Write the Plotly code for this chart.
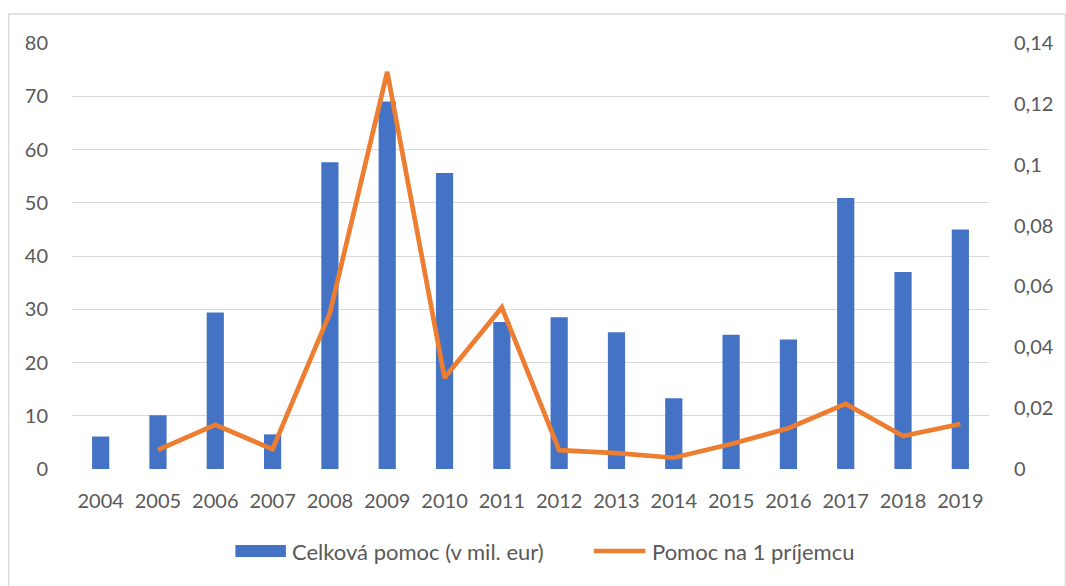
import plotly.graph_objects as go

years = [str(y) for y in range(2004, 2020)]
celkova_pomoc = [6.1, 10.1, 29.4, 6.5, 57.6, 69.0, 55.6, 27.6, 28.5, 25.7, 13.3, 25.2, 24.3, 50.9, 37.0, 45.0]
pomoc_na_prijemcu = [None, 0.0063, 0.0145, 0.0065, 0.0513, 0.1305, 0.0300, 0.0531,
                     0.0062, 0.0052, 0.0037, 0.0082, 0.0134, 0.0214, 0.0108, 0.0148]
left_ticks = [0, 10, 20, 30, 40, 50, 60, 70, 80]
right_ticks = [0, 0.02, 0.04, 0.06, 0.08, 0.1, 0.12, 0.14]
names = ["Celková pomoc (v mil. eur)", "Pomoc na 1 príjemcu"]

FONT = "Lato"
FS = 20
LFS = 22
TXT = "#595959"
GRID = "#D9D9D9"
BLUE = "#4472C4"
ORANGE = "#ED7D31"

fig = go.Figure()
fig.add_trace(go.Bar(
    x=years, y=celkova_pomoc, name=names[0],
    marker=dict(color=BLUE, line=dict(width=0)),
    yaxis="y",
))
fig.add_trace(go.Scatter(
    x=years, y=pomoc_na_prijemcu, name=names[1],
    mode="lines", line=dict(color=ORANGE, width=4.7),
    yaxis="y2", connectgaps=False,
))

W, H = 1066, 586
L, R, T, B = 72, 68, 43, 117
pw, ph = W - L - R, H - T - B

def px_x(p):
    return (p - L) / pw

def px_y(p):
    return (H - B - p) / ph

LEG_Y = 551
shapes = [
    dict(type="rect", xref="paper", yref="paper",
         x0=px_x(8), x1=px_x(1075), y0=px_y(600), y1=px_y(14),
         line=dict(color=GRID, width=1.3), layer="below"),
    dict(type="rect", xref="paper", yref="paper",
         x0=px_x(237), x1=px_x(288), y0=px_y(LEG_Y + 6), y1=px_y(LEG_Y - 6),
         fillcolor=BLUE, line=dict(width=0)),
    dict(type="line", xref="paper", yref="paper",
         x0=px_x(599), x1=px_x(651), y0=px_y(LEG_Y), y1=px_y(LEG_Y),
         line=dict(color=ORANGE, width=4.7)),
]
annotations = [
    dict(text=names[0], xref="paper", yref="paper", x=px_x(292), y=px_y(LEG_Y),
         xanchor="left", yanchor="middle", showarrow=False,
         font=dict(family=FONT, size=LFS, color=TXT)),
    dict(text=names[1], xref="paper", yref="paper", x=px_x(656), y=px_y(LEG_Y),
         xanchor="left", yanchor="middle", showarrow=False,
         font=dict(family=FONT, size=LFS, color=TXT)),
]

fig.update_layout(
    width=W, height=H,
    margin=dict(l=L, r=R, t=T, b=B, pad=0),
    paper_bgcolor="white", plot_bgcolor="white",
    separators=", ",
    bargap=0.7,
    showlegend=False,
    font=dict(family=FONT, size=FS, color=TXT),
    xaxis=dict(
        showgrid=False, showline=False, zeroline=False,
        ticks="outside", ticklen=14, tickcolor="rgba(0,0,0,0)",
        tickfont=dict(family=FONT, size=FS, color=TXT),
    ),
    yaxis=dict(
        range=[0, 80], tickvals=left_ticks, showgrid=True, gridcolor=GRID, gridwidth=1.3,
        zeroline=False, showline=False,
        ticks="outside", ticklen=19, tickcolor="rgba(0,0,0,0)",
        tickfont=dict(family=FONT, size=FS, color=TXT),
    ),
    yaxis2=dict(
        range=[0, 0.14], tickvals=right_ticks, overlaying="y", side="right",
        showgrid=False, zeroline=False, showline=False,
        ticks="outside", ticklen=20, tickcolor="rgba(0,0,0,0)",
        tickfont=dict(family=FONT, size=FS, color=TXT),
    ),
    shapes=shapes,
    annotations=annotations,
)

fig.write_html(
    "out.html",
    config={"displayModeBar": False},
    post_script="document.body.style.margin='0';document.body.style.overflow='hidden';",
)
